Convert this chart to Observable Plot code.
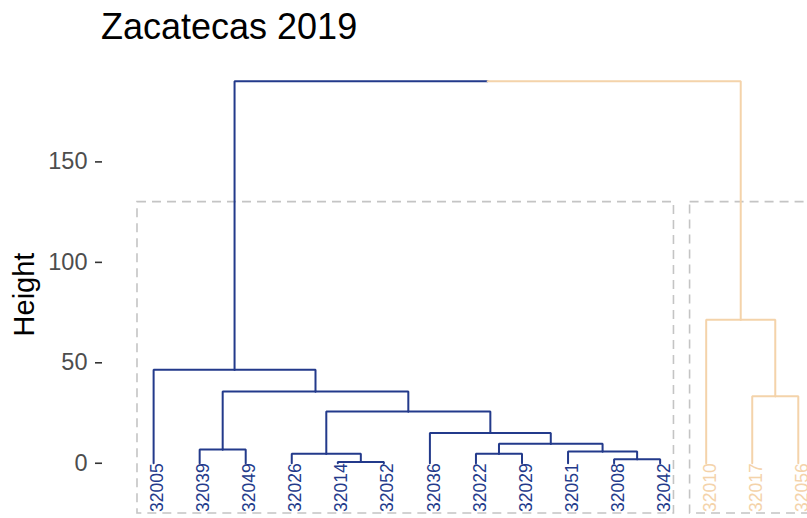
<!DOCTYPE html>
<html><head><meta charset="utf-8">
<script src="https://cdn.jsdelivr.net/npm/d3@7"></script>
<script src="https://cdn.jsdelivr.net/npm/@observablehq/plot@0.6"></script>
<style>
html,body{margin:0;padding:0;background:#fff;overflow:hidden;}
#wrap{position:relative;width:807px;height:518px;}
#title{position:absolute;left:101px;top:9px;font:36px/36px "Liberation Sans",Arial,sans-serif;color:#000;white-space:nowrap;}
#chart{position:absolute;left:0;top:55px;}
</style></head><body>
<div id="wrap"><div id="title"></div><div id="chart"></div></div>
<script>
const titleText = "Zacatecas 2019";
const yLabel = "Height";
const leafLabels = ["32005","32039","32049","32026","32014","32052","32036","32022","32029","32051","32008","32042","32010","32017","32056"];
const leafCluster = [1,1,1,1,1,1,1,1,1,1,1,1,2,2,2];
const clusterColors = ["#233A8B","#F4D3AA"];
// merges in order (numbers refer to earlier merges, 1-based; strings are leaves)
const mergeA = ["32014","32008","32026","32022","32051","32039",4,"32036",3,"32017",6,"32005","32010",12];
const mergeB = ["32052","32042",1,"32029",2,"32049",5,7,8,"32056",9,11,10,13];
const mergeHeight = [0.6,2.0,4.7,4.7,5.9,6.9,9.7,15.0,25.8,33.4,35.7,46.5,71.4,190.2];
const yTicks = [0,50,100,150];
const rectTop = 130, rectBottom = -25;

document.getElementById("title").textContent = titleText;

// build tree nodes
const nodes = {};
const leaves = leafLabels.map((l,i)=>{ const n = {label:l, x:i+1, h:0, c:leafCluster[i]}; nodes[l]=n; return n; });
const key = v => typeof v === "number" ? "M"+v : v;
const elbows = [];
mergeHeight.forEach((h,i)=>{
  const a = nodes[key(mergeA[i])], b = nodes[key(mergeB[i])];
  const m = {x:(a.x+b.x)/2, h:h, c: a.c===b.c ? a.c : null};
  nodes["M"+(i+1)] = m;
  [a,b].forEach((ch,j)=>{
    const id = "M"+(i+1)+"-"+j;
    elbows.push({id, x:ch.x, y:ch.h, c:ch.c});
    elbows.push({id, x:ch.x, y:h, c:ch.c});
    elbows.push({id, x:m.x, y:h, c:ch.c});
  });
});

// cluster rectangles
const rects = [1,2].map(k=>{
  const idx = leaves.filter(d=>d.c===k).map(d=>d.x);
  return {k, x1:d3.min(idx)-0.35, x2:d3.max(idx)+0.3, y1:rectBottom, y2:rectTop};
});

const font = "'Liberation Sans', Arial, sans-serif";
const chart = Plot.plot({
  width: 807, height: 463,
  marginLeft: 102, marginRight: 0, marginTop: 16, marginBottom: 1,
  x: {domain: [-0.11, 15.2], axis: null},
  y: {domain: [-27, 195], axis: null},
  color: {domain: [1,2], range: clusterColors},
  style: {fontFamily: font, background: "white", overflow: "hidden"},
  marks: [
    Plot.rect(rects, {x1:"x1", x2:"x2", y1:"y1", y2:"y2", fill:"none", stroke:"#C4C4C4", strokeWidth:1.6, strokeDasharray:"9,6", clip:true}),
    Plot.line(elbows, {x:"x", y:"y", z:"id", stroke:"c", strokeWidth:2, strokeLinejoin:"miter", curve:"linear"}),
    Plot.text(leaves, {x:"x", y:"h", text:"label", rotate:-90, textAnchor:"end", lineAnchor:"middle", fill:"c", fontSize:17.5, dx:4}),
    Plot.axisY(yTicks, {anchor:"left", tickSize:7, tickPadding:8, fontSize:23.5, fill:"#4D4D4D", stroke:"#333333", strokeWidth:1.6, label:null}),
    Plot.axisY(yTicks, {anchor:"left", tickSize:0, tickFormat:()=>"", fontSize:29, fill:"#000", label:yLabel, labelAnchor:"center", labelOffset:89, labelArrow:"none"})
  ]
});
document.getElementById("chart").appendChild(chart);
</script>
</body></html>
